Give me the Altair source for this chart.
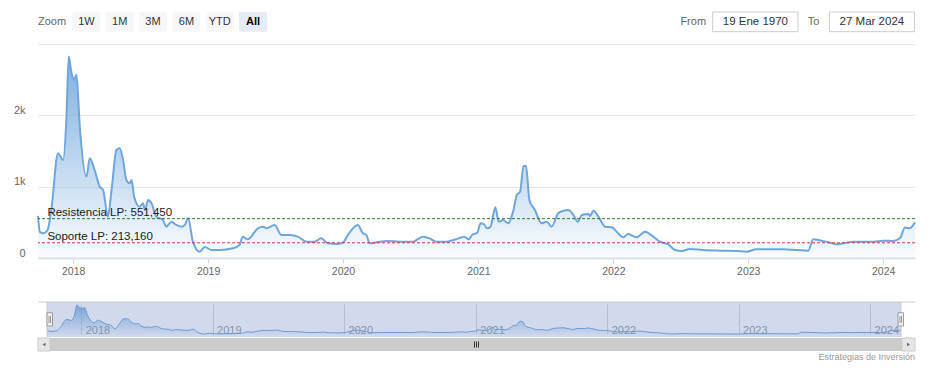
import altair as alt
import pandas as pd

# ---------------- data ----------------
dates = [
    "2017-09-28", "2017-10-03", "2017-10-12", "2017-10-24", "2017-11-04", "2017-11-21",
    "2017-12-05", "2017-12-14", "2017-12-20", "2017-12-27", "2018-01-03", "2018-01-10",
    "2018-01-19", "2018-02-06", "2018-02-15", "2018-02-28", "2018-03-14", "2018-03-23",
    "2018-04-05", "2018-04-15", "2018-04-28", "2018-05-07", "2018-05-16", "2018-05-25",
    "2018-06-03", "2018-06-08", "2018-06-15", "2018-06-30", "2018-07-09", "2018-07-14",
    "2018-07-23", "2018-08-01", "2018-08-14", "2018-09-01", "2018-09-10", "2018-09-24",
    "2018-10-07", "2018-10-21", "2018-10-30", "2018-11-08", "2018-11-21", "2018-12-09",
    "2018-12-23", "2019-01-10", "2019-02-01", "2019-03-09", "2019-03-27", "2019-04-05",
    "2019-04-18", "2019-05-16", "2019-05-30", "2019-06-08", "2019-06-30", "2019-07-18",
    "2019-08-10", "2019-09-01", "2019-09-24", "2019-10-16", "2019-11-03", "2019-11-21",
    "2019-12-18", "2020-01-01", "2020-01-14", "2020-02-10", "2020-02-24", "2020-03-04",
    "2020-03-13", "2020-04-09", "2020-05-01", "2020-06-02", "2020-07-08", "2020-08-04",
    "2020-08-22", "2020-09-09", "2020-10-06", "2020-11-02", "2020-11-24", "2020-12-06",
    "2020-12-15", "2020-12-29", "2021-01-07", "2021-01-16", "2021-01-25", "2021-02-03",
    "2021-02-16", "2021-02-25", "2021-03-09", "2021-03-23", "2021-04-05", "2021-04-15",
    "2021-04-24", "2021-05-03", "2021-05-10", "2021-05-19", "2021-06-03", "2021-06-21",
    "2021-07-05", "2021-07-18", "2021-08-05", "2021-08-19", "2021-09-01", "2021-09-15",
    "2021-09-27", "2021-10-08", "2021-10-26", "2021-10-30", "2021-11-08", "2021-11-22",
    "2021-12-10", "2021-12-28", "2022-01-10", "2022-01-28", "2022-02-10", "2022-03-05",
    "2022-03-28", "2022-04-19", "2022-05-07", "2022-05-30", "2022-06-17", "2022-07-05",
    "2022-07-27", "2022-09-01", "2022-10-16", "2022-11-30", "2022-12-28", "2023-01-23",
    "2023-02-28", "2023-04-05", "2023-05-12", "2023-06-12", "2023-06-26", "2023-07-09",
    "2023-08-10", "2023-08-28", "2023-09-15", "2023-10-12", "2023-11-08", "2023-12-05",
    "2024-01-01", "2024-01-28", "2024-02-15", "2024-02-29", "2024-03-13", "2024-03-27",
]
values = [
    590, 369, 346, 393, 720, 1469,
    1375, 1983, 2824, 2614, 2497, 2568,
    1842, 1141, 1399, 1235, 1000, 954,
    580, 954, 1515, 1539, 1375, 1094,
    1048, 1094, 860, 720, 767, 673,
    814, 767, 580, 533, 439, 509,
    463, 439, 463, 557, 229, 88,
    155, 112, 112, 136, 182, 299,
    262, 417, 439, 417, 463, 323,
    323, 299, 229, 229, 276, 206,
    196, 215, 323, 463, 346, 323,
    206, 229, 238, 229, 229, 299,
    276, 229, 229, 262, 299, 262,
    323, 355, 487, 473, 417, 439,
    711, 509, 533, 487, 650, 884,
    930, 1291, 1291, 814, 673, 487,
    509, 439, 627, 664, 673, 603,
    509, 603, 617, 589, 664, 580,
    439, 430, 369, 290, 337, 290,
    369, 299, 229, 192, 112, 98,
    126, 112, 103, 98, 88, 122,
    122, 122, 112, 103, 262, 253,
    215, 192, 206, 229, 229, 229,
    243, 238, 276, 426, 417, 500,
]

level_values = [551.45, 213.16]
level_labels = ["Resistencia LP: 551,450", "Soporte LP: 213,160"]

y_ticks = [0, 1000, 2000, 3000]
years = [2018, 2019, 2020, 2021, 2022, 2023, 2024]

zoom_label = "Zoom"
buttons = ["1W", "1M", "3M", "6M", "YTD", "All"]
selected_button = "All"
from_label, to_label = "From", "To"
from_date, to_date = "19 Ene 1970", "27 Mar 2024"
credits_text = "Estrategias de Inversión"

# ---------------- styles / layout ----------------
FONT = "Liberation Sans"
W, H = 877, 214
NAV_H = 35
BLUE = "#6fa6dc"
level_colors = ["#2e7d32", "#d6334e"]
btn_x = [(34.4, 62.4), (67.7, 95.7), (101.0, 129.0), (134.4, 162.4), (167.7, 195.7), (201.0, 229.0)]

df = pd.DataFrame({"date": dates, "value": values})
levels = pd.DataFrame({"value": level_values, "label": level_labels})
one = pd.DataFrame({"k": [0]})
year_values = [alt.DateTime(year=y, month=1, date=1, utc=True) for y in years]


def grad(a0, a1):
    return alt.Gradient(
        gradient="linear", x1=0, x2=0, y1=0, y2=1,
        stops=[alt.GradientStop(offset=0, color=f"rgba(111,166,220,{a0})"),
               alt.GradientStop(offset=1, color=f"rgba(111,166,220,{a1})")],
    )


def box(x0, x1, y0, y1, fill, stroke=None, radius=0, opacity=1):
    kw = dict(fill=fill, cornerRadius=radius, opacity=opacity)
    if stroke:
        kw.update(stroke=stroke, strokeWidth=1)
    return alt.Chart(one).mark_rect(**kw).encode(
        x=alt.value(x0), x2=alt.value(x1), y=alt.value(y0), y2=alt.value(y1))


def label(txt, x, y, align="left", size=11, color="#333333", weight="normal", font=FONT):
    return alt.Chart(one).mark_text(
        text=txt, align=align, baseline="middle", font=font, fontSize=size,
        color=color, fontWeight=weight).encode(x=alt.value(x), y=alt.value(y))


def hline(x0, x1, y, color, width=1):
    return alt.Chart(one).mark_rule(color=color, strokeWidth=width).encode(
        x=alt.value(x0), x2=alt.value(x1), y=alt.value(y))


def vline(x, y0, y1, color, width=1):
    return alt.Chart(one).mark_rule(color=color, strokeWidth=width).encode(
        x=alt.value(x), y=alt.value(y0), y2=alt.value(y1))


# ---------------- main chart ----------------
x_main = alt.X("date:T", scale=alt.Scale(type="utc"),
               axis=alt.Axis(values=year_values, format="%Y", title=None, grid=False,
                             labelFont=FONT, labelFontSize=10.5, labelColor="#666666",
                             labelPadding=3, tickColor="#ccd6eb", tickSize=5,
                             domainColor="#dde2ea", domainWidth=2, labelFlush=False))
y_main = alt.Y("value:Q", scale=alt.Scale(domain=[0, 3000], nice=False),
               axis=alt.Axis(values=y_ticks,
                             labelExpr="datum.value >= 3000 ? '' : (datum.value == 0 ? '0' : (datum.value / 1000) + 'k')",
                             title=None, grid=True, gridColor="#e8e8e8", domain=False,
                             ticks=False, labelPadding=13, labelFont=FONT, labelFontSize=11,
                             labelColor="#666666", labelBaseline="alphabetic", labelOffset=-2))

area = alt.Chart(df).mark_area(color=grad(0.9, 0.03), interpolate="monotone").encode(x=x_main, y=y_main)
line = alt.Chart(df).mark_line(color=BLUE, strokeWidth=2, interpolate="monotone").encode(
    x="date:T", y="value:Q")
rules = alt.Chart(levels).mark_rule(strokeDash=[3, 2], strokeWidth=1).encode(
    y="value:Q",
    color=alt.Color("label:N", scale=alt.Scale(domain=level_labels, range=level_colors), legend=None))
level_text = alt.Chart(levels).mark_text(
    align="left", baseline="alphabetic", dy=-3, font=FONT, fontSize=11.5, color="#1a1a1a").encode(
    x=alt.value(9.4), y="value:Q", text="label:N")

ui = [
    box(-30, -29, -36, H + 43, "white", opacity=0),   # layout spacer
    label(zoom_label, 0, -22, color="#666666"),
]
for name, (x0, x1) in zip(buttons, btn_x):
    sel = name == selected_button
    ui.append(box(x0, x1, -32, -12.3, "#e6ebf5" if sel else "#f7f7f7", radius=2))
    ui.append(label(name, (x0 + x1) / 2, -22, align="center",
                    color="#000000" if sel else "#333333", weight="bold" if sel else "normal"))
ui += [
    label(from_label, 642.4, -22, color="#666666"),
    box(674.7, 760.0, -32, -12.3, "white", stroke="#cccccc"),
    label(from_date, 717.4, -22, align="center", size=11.5, color="#333333"),
    label(to_label, 769.7, -22, color="#666666"),
    box(791.4, 876.4, -32, -12.3, "white", stroke="#cccccc"),
    label(to_date, 833.9, -22, align="center", size=11.5, color="#333333"),
]

main = alt.layer(area, line, rules, level_text, *ui).properties(width=W, height=H)

# ---------------- navigator ----------------
x_nav = alt.X("date:T", scale=alt.Scale(type="utc", range=[9, 863]),
              axis=alt.Axis(values=year_values, format="%Y", title=None, grid=True,
                            gridColor="#d6d6d6", domain=False, ticks=False, tickSize=0,
                            labelAlign="left", labelBaseline="alphabetic", labelPadding=-3.3,
                            labelOffset=4, labelColor="#999999", labelFont=FONT,
                            labelFontSize=11, labelFlush=False))
y_nav = alt.Y("value:Q", scale=alt.Scale(range=[33, 3], zero=True, nice=False), axis=None)

nav_area = alt.Chart(df).mark_area(color=grad(0.85, 0.05), interpolate="monotone").encode(x=x_nav, y=y_nav)
nav_line = alt.Chart(df).mark_line(color=BLUE, strokeWidth=1, interpolate="monotone").encode(
    x="date:T", y="value:Q")

nav_ui = [
    box(9, 863, 0, NAV_H, "rgba(102,133,194,0.3)"),
    hline(0, W, 0, "#cccccc"),
    vline(9, 0, NAV_H, "#cccccc"),
    vline(863, 0, NAV_H, "#cccccc"),
    # handles
    box(9, 14.5, 10.7, 24, "#f2f2f2", stroke="#999999"),
    vline(11, 14, 21, "#999999"), vline(12.5, 14, 21, "#999999"),
    box(860, 865.5, 10.7, 24, "#f2f2f2", stroke="#999999"),
    vline(862, 14, 21, "#999999"), vline(863.5, 14, 21, "#999999"),
    # scrollbar
    box(12, 864, 36, 49, "#cccccc"),
    box(0, 12, 36, 49, "#e6e6e6", stroke="#cccccc"),
    box(864, 877, 36, 49, "#e6e6e6", stroke="#cccccc"),
    alt.Chart(one).mark_point(shape="triangle-left", size=12, filled=True, color="#333333").encode(
        x=alt.value(6), y=alt.value(42.5)),
    alt.Chart(one).mark_point(shape="triangle-right", size=12, filled=True, color="#333333").encode(
        x=alt.value(870.5), y=alt.value(42.5)),
    vline(436.5, 39.5, 45.5, "#333333"), vline(438.5, 39.5, 45.5, "#333333"),
    vline(440.5, 39.5, 45.5, "#333333"),
    label(credits_text, W, 55, align="right", size=9, color="#999999"),
]

nav = alt.layer(nav_area, nav_line, *nav_ui).properties(width=W, height=NAV_H)

chart = (alt.vconcat(main, nav, spacing=0)
         .properties(padding=0)
         .configure_view(strokeWidth=0))

chart.save("out.html", embed_options={"renderer": "svg", "actions": False})
